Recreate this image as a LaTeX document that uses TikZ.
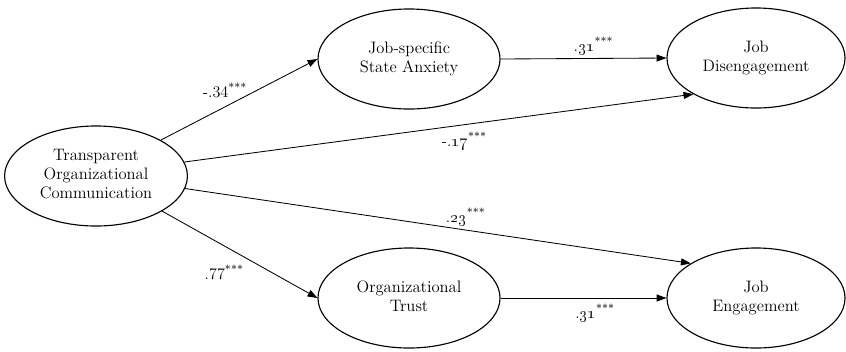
\documentclass[tikz,border=0pt]{standalone}
\usepackage{tikz}
\usetikzlibrary{shapes.geometric, arrows.meta, positioning}

\begin{document}
\begin{tikzpicture}[x=0.025cm, y=-0.025cm, >={Triangle[length=7pt, width=5pt]},
    construct/.style={draw, ellipse, line width=0.8pt, minimum width=4.55cm, minimum height=2.5cm, inner sep=0pt, font=\fontsize{11.8}{13.6}\selectfont},
    link/.style={->, line width=0.6pt},
    coef/.style={inner sep=1pt, font=\fontsize{11.5}{13.6}\selectfont}]
    \useasboundingbox (0,0) rectangle (846,351);

    \node[construct] (toc) at (96,176) {
        \begin{tabular}{c}
            Transparent \\
            Organizational \\
            Communication
        \end{tabular}
    };

    \node[construct] (anx) at (409,59) {
        \begin{tabular}{c}
            Job-specific \\
            State Anxiety
        \end{tabular}
    };

    \node[construct] (trust) at (409,298) {
        \begin{tabular}{c}
            Organizational \\
            Trust
        \end{tabular}
    };

    \node[construct, minimum width=4.45cm] (dis) at (756,58) {
        \begin{tabular}{c}
            Job \\
            Disengagement
        \end{tabular}
    };

    \node[construct, minimum width=4.45cm] (eng) at (756,298) {
        \begin{tabular}{c}
            Job \\
            Engagement
        \end{tabular}
    };

    \draw[link] (toc.29) -- node[coef, pos=0.41, above=5pt] {-.34\textsuperscript{***}} (anx.west);
    \draw[link] (toc.9) -- node[coef, pos=0.55, below=4pt] {-.\oldstylenums{17}\textsuperscript{***}} (dis.210);
    \draw[link] (toc.352) -- node[coef, pos=0.555, above=2pt] {.\oldstylenums{23}\textsuperscript{***}} (eng.152);
    \draw[link] (toc.332) -- node[coef, pos=0.4, below=12pt] {.77\textsuperscript{***}} (trust.west);
    \draw[link] (anx.east) -- node[coef, pos=0.56, above=1pt] {.\oldstylenums{31}\textsuperscript{***}} (dis.west);
    \draw[link] (trust.east) -- node[coef, pos=0.57, below=3pt] {.\oldstylenums{31}\textsuperscript{***}} (eng.west);
\end{tikzpicture}
\end{document}
